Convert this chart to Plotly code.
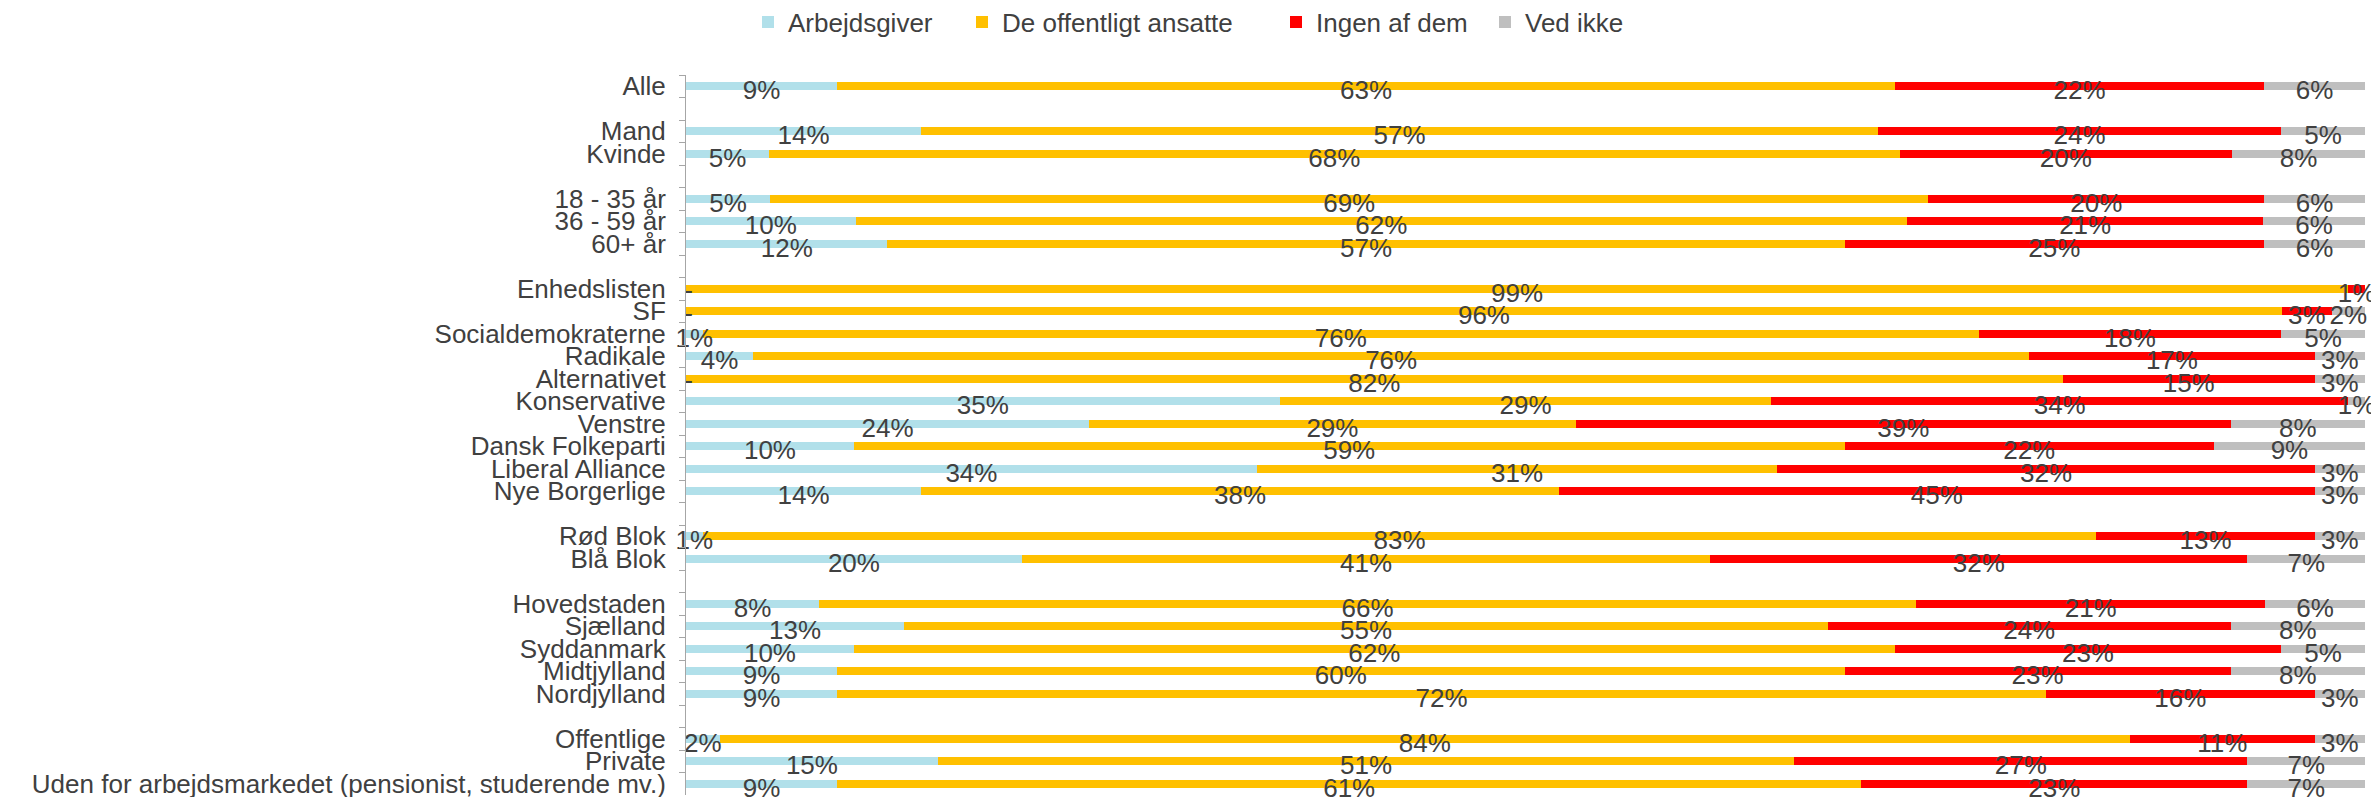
import plotly.graph_objects as go

categories = ["Alle", " ", "Mand", "Kvinde", "  ", "18 - 35 år", "36 - 59 år", "60+ år", "   ",
              "Enhedslisten", "SF", "Socialdemokraterne", "Radikale", "Alternativet", "Konservative",
              "Venstre", "Dansk Folkeparti", "Liberal Alliance", "Nye Borgerlige", "    ",
              "Rød Blok", "Blå Blok", "     ",
              "Hovedstaden", "Sjælland", "Syddanmark", "Midtjylland", "Nordjylland", "      ",
              "Offentlige", "Private", "Uden for arbejdsmarkedet (pensionist, studerende mv.)"]

arbejdsgiver = [9, None, 14, 5, None, 5, 10, 12, None, 0, 0, 1, 4, 0, 35, 24, 10, 34, 14, None,
                1, 20, None, 8, 13, 10, 9, 9, None, 2, 15, 9]
offentligt = [63, None, 57, 68, None, 69, 62, 57, None, 99, 96, 76, 76, 82, 29, 29, 59, 31, 38, None,
              83, 41, None, 66, 55, 62, 60, 72, None, 84, 51, 61]
ingen = [22, None, 24, 20, None, 20, 21, 25, None, 1, 3, 18, 17, 15, 34, 39, 22, 32, 45, None,
         13, 32, None, 21, 24, 23, 23, 16, None, 11, 27, 23]
ved_ikke = [6, None, 5, 8, None, 6, 6, 6, None, 0, 2, 5, 3, 3, 1, 8, 9, 3, 3, None,
            3, 7, None, 6, 8, 5, 8, 3, None, 3, 7, 7]

series = [
    ("Arbejdsgiver", arbejdsgiver, "#b1e0ea"),
    ("De offentligt ansatte", offentligt, "#ffc000"),
    ("Ingen af dem", ingen, "#ff0000"),
    ("Ved ikke", ved_ikke, "#bfbfbf"),
]

FONT = "Liberation Sans, Arial, sans-serif"
TXT = "#404040"
FS = 26

# figure sits 8px in from the page corner (default body margin)
W, H = 2371, 789
ML, MR, MT, MB = 678, 14, 67, 2
PLOT_W = W - ML - MR
PLOT_H = H - MT - MB
n = len(categories)
label_shift = 4 / (PLOT_H / n)   # value labels sit slightly below the bar centre

# left edge (figure px) of each legend entry
legend_left = [740, 954, 1268, 1477]
legend_names = ["legend", "legend2", "legend3", "legend4"]

fig = go.Figure()
for i, (name, vals, col) in enumerate(series):
    fig.add_trace(go.Bar(
        name=name, x=vals, y=categories, orientation="h",
        legend=legend_names[i],
        marker=dict(color=col, line=dict(width=0)),
        hoverinfo="x+y",
    ))
# value labels (same data, transparent bars on an overlaid, slightly shifted category axis)
for i, (name, vals, col) in enumerate(series):
    fig.add_trace(go.Bar(
        name=name, x=vals, y=categories, orientation="h", yaxis="y2",
        marker=dict(color="rgba(0,0,0,0)", line=dict(width=0)),
        text=[f"{v}%" if v else "" for v in vals],
        textposition="inside", insidetextanchor="middle", textangle=0,
        constraintext="none", cliponaxis=False,
        textfont=dict(family=FONT, size=FS, color=TXT),
        showlegend=False, hoverinfo="skip",
    ))

# zero values in first series shown as "-"
zero_cats = [c for c, v in zip(categories, arbejdsgiver) if v == 0]
fig.add_trace(go.Scatter(
    x=[0.15] * len(zero_cats), y=zero_cats, yaxis="y2", mode="text", text=["-"] * len(zero_cats),
    textposition="middle center", textfont=dict(family=FONT, size=FS, color=TXT),
    showlegend=False, cliponaxis=False, hoverinfo="skip",
))

legend_layout = {}
for ln, lx in zip(legend_names, legend_left):
    legend_layout[ln] = dict(
        orientation="h", x=(lx - ML) / PLOT_W, xref="paper", xanchor="left",
        y=1 + (MT - 14) / PLOT_H, yref="paper", yanchor="middle",
        font=dict(family=FONT, size=FS, color=TXT), itemclick=False,
        bgcolor="rgba(0,0,0,0)",
    )

fig.update_layout(
    width=W, height=H,
    barmode="stack", barnorm="percent", bargap=0.63,
    plot_bgcolor="white", paper_bgcolor="white",
    margin=dict(l=ML, r=MR, t=MT, b=MB, autoexpand=False),
    font=dict(family=FONT, size=FS, color=TXT),
    xaxis=dict(range=[0, 100.001], showticklabels=False, showgrid=False, zeroline=False,
               showline=False, ticks=""),
    yaxis=dict(type="category", categoryorder="array", categoryarray=categories,
               range=[n - 0.5, -0.5], showgrid=False, zeroline=False,
               tickmode="linear", tick0=0, dtick=1,
               showline=True, linecolor="#a6a6a6", linewidth=1,
               ticks="outside", tickson="boundaries", ticklen=6, tickcolor="#a6a6a6",
               ticklabelstandoff=14,
               tickfont=dict(family=FONT, size=FS, color=TXT)),
    yaxis2=dict(type="category", categoryorder="array", categoryarray=categories,
                overlaying="y", range=[n - 0.5 - label_shift, -0.5 - label_shift],
                showticklabels=False, showgrid=False, zeroline=False, showline=False, ticks=""),
    **legend_layout,
)

fig.write_html("out.html")
